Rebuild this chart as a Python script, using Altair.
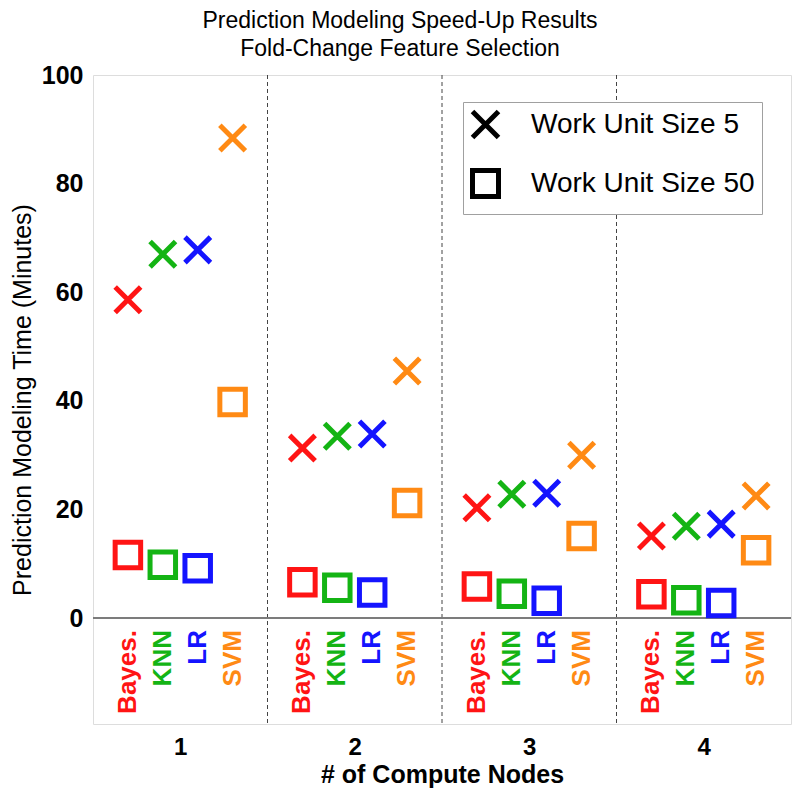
import altair as alt
import pandas as pd

methods = ["Bayes.", "KNN", "LR", "SVM"]
method_colors = ["#ff1414", "#14b414", "#1414ff", "#ff8a14"]
nodes = [1, 2, 3, 4]
series = ["Work Unit Size 5", "Work Unit Size 50"]

# values (minutes), per node: Bayes, KNN, LR, SVM
ws5_n1 = [58.6, 67.0, 67.8, 88.4]
ws5_n2 = [31.3, 33.5, 33.9, 45.5]
ws5_n3 = [20.3, 22.8, 23.0, 30.0]
ws5_n4 = [15.1, 16.9, 17.3, 22.5]
ws50_n1 = [11.6, 9.8, 9.2, 39.8]
ws50_n2 = [6.6, 5.6, 4.7, 21.2]
ws50_n3 = [5.8, 4.5, 3.2, 15.1]
ws50_n4 = [4.4, 3.3, 2.8, 12.5]

ws5 = [ws5_n1, ws5_n2, ws5_n3, ws5_n4]
ws50 = [ws50_n1, ws50_n2, ws50_n3, ws50_n4]

rows = []
for ni, n in enumerate(nodes):
    for mi, m in enumerate(methods):
        rows.append({"nodes": n, "mi": mi, "method": m, "series": series[0], "value": ws5[ni][mi]})
        rows.append({"nodes": n, "mi": mi, "method": m, "series": series[1], "value": ws50[ni][mi]})
df = pd.DataFrame(rows)

lab_rows = [{"nodes": n, "mi": mi, "method": m} for n in nodes for mi, m in enumerate(methods)]
labels_df = pd.DataFrame(lab_rows)

seps = pd.DataFrame({"sep": [1.5, 2.5, 3.5]})

FONT = "Liberation Sans"
XPATH = "M-1,-1L1,1M-1,1L1,-1"

xscale = alt.Scale(domain=[0.5, 4.5], nice=False, zero=False)
yscale = alt.Scale(domain=[-19.5, 100], nice=False, zero=False)
cscale = alt.Scale(domain=methods, range=method_colors)

xaxis = alt.Axis(values=nodes, title="# of Compute Nodes", grid=False, ticks=False, domain=False,
                 labelFont=FONT, labelFontSize=24, labelFontWeight="bold", labelColor="black",
                 labelPadding=11, titleFont=FONT, titleFontSize=25, titleFontWeight="bold",
                 titleColor="black", titlePadding=3, format="d")
yaxis = alt.Axis(values=[0, 20, 40, 60, 80, 100], title="Prediction Modeling Time (Minutes)",
                 grid=False, ticks=False, domain=False, labelFont=FONT, labelFontSize=25,
                 labelFontWeight="bold", labelColor="black", labelPadding=10,
                 titleFont=FONT, titleFontSize=25, titleFontWeight="normal", titleColor="black",
                 titlePadding=6)

sep_rules = alt.Chart(seps).mark_rule(color="#444444", strokeWidth=1, strokeDash=[4, 3]).encode(
    x=alt.X("sep:Q", scale=xscale, axis=xaxis)
)

zero_rule = alt.Chart(seps).mark_rule(color="#7a7a7a", strokeWidth=1.5).encode(
    y=alt.datum(0, scale=yscale, axis=yaxis)
)

points = alt.Chart(df).transform_calculate(
    xpos="datum.nodes + (datum.mi - 1.5) * 0.2"
).mark_point(filled=False, strokeWidth=5, size=650, opacity=1).encode(
    x=alt.X("xpos:Q", scale=xscale, axis=xaxis),
    y=alt.Y("value:Q", scale=yscale, axis=yaxis),
    color=alt.Color("method:N", scale=cscale, legend=None),
    shape=alt.Shape("series:N", scale=alt.Scale(domain=series, range=[XPATH, "square"]),
                    legend=alt.Legend(title=None, orient="none", legendX=370, legendY=27,
                                      symbolSize=676, symbolStrokeWidth=5,
                                      symbolStrokeColor="black", symbolFillColor="transparent",
                                      labelFont=FONT, labelFontSize=28, labelColor="black",
                                      labelLimit=400, labelOffset=30, padding=7, rowPadding=12,
                                      strokeColor="#a0a0a0", fillColor="white",
                                      cornerRadius=0)),
)

labels = alt.Chart(labels_df).transform_calculate(
    xpos="datum.nodes + (datum.mi - 1.5) * 0.2"
).mark_text(angle=270, align="right", baseline="middle", font=FONT, fontSize=26,
            fontWeight="bold").encode(
    x=alt.X("xpos:Q", scale=xscale, axis=xaxis),
    y=alt.datum(-2.2, scale=yscale, axis=yaxis),
    text="method:N",
    color=alt.Color("method:N", scale=cscale, legend=None),
)

chart = alt.layer(sep_rules, zero_rule, points, labels).properties(
    width=698, height=649,
    title=alt.TitleParams(["Prediction Modeling Speed-Up Results", "Fold-Change Feature Selection"],
                          font=FONT, fontSize=23, fontWeight="normal", color="black",
                          anchor="middle", dx=-42, offset=2, lineHeight=28),
    autosize=alt.AutoSizeParams(type="none"),
    padding={"left": 85, "top": 67, "right": 1, "bottom": 66},
).configure_view(stroke="#7a7a7a", strokeWidth=1.5).configure(background="white")

chart.save("out.html", embed_options={"renderer": "svg", "actions": False})
